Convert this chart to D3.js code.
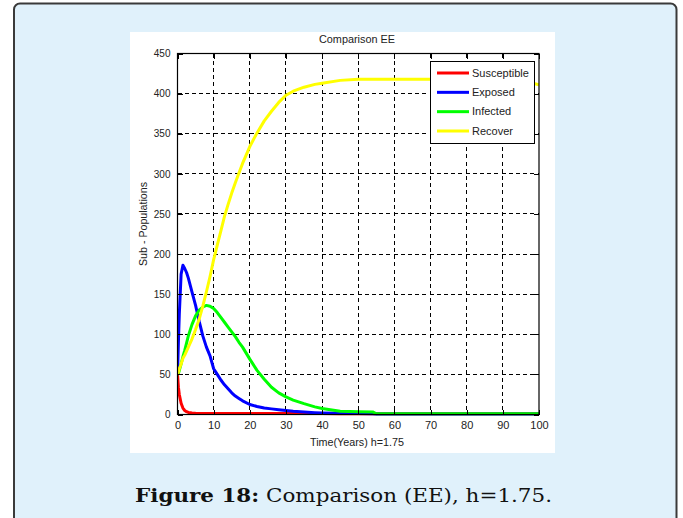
<!DOCTYPE html>
<html><head><meta charset="utf-8">
<script src="https://cdn.jsdelivr.net/npm/d3@7"></script>
<style>
html,body{margin:0;padding:0;background:#fff;}
svg{display:block;}
</style></head>
<body>
<svg id="chart" width="683" height="518"></svg>
<script>
// Time grid (years) and the four sub-populations of the EE comparison run
const timeYears = [0, 0.25, 0.5, 1, 1.5, 2, 2.5, 3, 4, 5, 6, 7, 8, 9, 10, 11, 12, 13, 14, 15, 16, 17, 18, 20, 22, 24, 26, 28, 30, 32, 35, 38, 40, 45, 50, 54, 55, 60, 70, 80, 90, 95, 100];
const susceptible = [50, 34, 25, 14, 8, 5, 3.5, 2.5, 1.8, 1.5, 1.4, 1.3, 1.3, 1.2, 1.2, 1.2, 1.2, 1.2, 1.2, 1.2, 1.2, 1.2, 1.2, 1.2, 1.2, 1.2, 1.2, 1.2, 1.2, 1.2, 1.1, 1.1, 1.1, 1, 1, 1, 1, 1, 1, 1, 1, 1, 1];
const exposed = [50, 90, 125, 175, 186, 182, 177, 170, 153, 136, 116, 98, 84, 73, 57, 50, 43, 37, 32, 27, 23, 20, 17, 12.5, 10, 8, 7, 6, 5, 4, 3, 2.3, 2, 1.5, 1.2, 1, 0.6, 0.5, 0.5, 0.5, 0.5, 0.5, 0.5];
const infected = [50, 51, 55, 63, 72, 80, 89, 98, 112, 123, 130, 134, 136, 135, 132, 127, 121, 115, 109, 103, 97, 90, 84, 69, 55, 44, 34, 27, 22, 18, 13.5, 9.5, 7.5, 4, 3.5, 3.2, 0.9, 0.8, 0.8, 0.8, 0.8, 0.8, 0.8];
const recovered = [50, 53, 57, 63, 70, 74, 79, 84, 94, 106, 119, 135, 153, 172, 193, 211, 229, 247, 262, 276, 289, 301, 313, 334, 351, 366, 378, 389, 398, 403, 408, 411.5, 413, 416.5, 418, 418, 418, 418, 418, 418, 418, 417, 411];

const xTicks = [0, 10, 20, 30, 40, 50, 60, 70, 80, 90, 100];
const yTicks = [0, 50, 100, 150, 200, 250, 300, 350, 400, 450];
const seriesNames = ["Susceptible", "Exposed", "Infected", "Recover"];
const seriesColors = ["#ff0000", "#0000ff", "#00ff00", "#ffff00"];
const seriesValues = [susceptible, exposed, infected, recovered];

const svg = d3.select("#chart");
const sans = "'Liberation Sans', Arial, sans-serif";

// Page card behind the figure
svg.append("rect")
  .attr("x", 14).attr("y", 3.5).attr("width", 662.5).attr("height", 540)
  .attr("rx", 6).attr("fill", "#e0f1fb")
  .attr("stroke", "#3a3a3a").attr("stroke-width", 2);

// White figure canvas
svg.append("rect")
  .attr("x", 130).attr("y", 32).attr("width", 425).attr("height", 421)
  .attr("fill", "#ffffff");

const plot = { left: 177.5, right: 539, top: 53.5, bottom: 414.5 };
const x = d3.scaleLinear().domain([0, 100]).range([plot.left, plot.right]);
const y = d3.scaleLinear().domain([0, 450]).range([plot.bottom, plot.top]);

// Dashed grid
const grid = svg.append("g").attr("stroke", "#000").attr("stroke-width", 1)
  .attr("stroke-dasharray", "4,3.2").attr("shape-rendering", "crispEdges");
grid.selectAll("line.v").data(xTicks.slice(1, -1)).join("line")
  .attr("class", "v")
  .attr("x1", d => x(d)).attr("x2", d => x(d))
  .attr("y1", plot.top).attr("y2", plot.bottom);
grid.selectAll("line.h").data(yTicks.slice(1, -1)).join("line")
  .attr("class", "h")
  .attr("x1", plot.left).attr("x2", plot.right)
  .attr("y1", d => y(d)).attr("y2", d => y(d));

// Series lines
const clip = svg.append("clipPath").attr("id", "plotClip");
clip.append("rect").attr("x", plot.left).attr("y", plot.top)
  .attr("width", plot.right - plot.left).attr("height", plot.bottom - plot.top + 1.5);

const line = d3.line().x(d => x(d[0])).y(d => y(d[1]));
const lines = svg.append("g").attr("clip-path", "url(#plotClip)");
seriesValues.forEach((vals, i) => {
  lines.append("path")
    .datum(timeYears.map((t, k) => [t, vals[k]]))
    .attr("fill", "none")
    .attr("stroke", seriesColors[i])
    .attr("stroke-width", 3)
    .attr("stroke-linejoin", "round")
    .attr("d", line);
});

// Axes with inward ticks on all four sides
function styleAxis(g) {
  g.select(".domain").remove();
  g.selectAll(".tick line").attr("stroke", "#000").attr("shape-rendering", "crispEdges");
  g.selectAll(".tick text").attr("fill", "#222").attr("font-family", sans);
}
svg.append("g").attr("transform", `translate(0,${plot.bottom})`)
  .call(d3.axisBottom(x).tickValues(xTicks).tickSize(-5).tickPadding(7).tickFormat(d3.format("d")))
  .call(styleAxis)
  .call(g => g.selectAll(".tick text").attr("font-size", 11));
svg.append("g").attr("transform", `translate(0,${plot.top})`)
  .call(d3.axisTop(x).tickValues(xTicks).tickSize(-5).tickFormat(""))
  .call(styleAxis);
svg.append("g").attr("transform", `translate(${plot.left},0)`)
  .call(d3.axisLeft(y).tickValues(yTicks).tickSize(-5).tickPadding(7).tickFormat(d3.format("d")))
  .call(styleAxis)
  .call(g => g.selectAll(".tick text").attr("font-size", 10));
svg.append("g").attr("transform", `translate(${plot.right},0)`)
  .call(d3.axisRight(y).tickValues(yTicks).tickSize(-5).tickFormat(""))
  .call(styleAxis);

// Axes box
svg.append("rect")
  .attr("x", plot.left).attr("y", plot.top)
  .attr("width", plot.right - plot.left).attr("height", plot.bottom - plot.top)
  .attr("fill", "none").attr("stroke", "#000").attr("stroke-width", 1.2);

// Titles
svg.append("text").attr("x", 357).attr("y", 43)
  .attr("text-anchor", "middle").attr("font-family", sans).attr("font-size", 11.5)
  .attr("fill", "#222").attr("textLength", 76).attr("lengthAdjust", "spacingAndGlyphs")
  .text("Comparison EE");
svg.append("text").attr("x", 357).attr("y", 446)
  .attr("text-anchor", "middle").attr("font-family", sans).attr("font-size", 11)
  .attr("fill", "#222").attr("textLength", 94).attr("lengthAdjust", "spacingAndGlyphs")
  .text("Time(Years) h=1.75");
svg.append("text")
  .attr("transform", "translate(147,224) rotate(-90)")
  .attr("text-anchor", "middle").attr("font-family", sans).attr("font-size", 11)
  .attr("fill", "#222").attr("textLength", 84).attr("lengthAdjust", "spacingAndGlyphs")
  .text("Sub - Populations");

// Legend
const legend = svg.append("g");
legend.append("rect").attr("x", 430.5).attr("y", 61.5).attr("width", 104).attr("height", 82)
  .attr("fill", "#fff").attr("stroke", "#000").attr("stroke-width", 1);
const legendY = d3.scalePoint().domain(seriesNames).range([73, 131]);
seriesNames.forEach((name, i) => {
  const yy = legendY(name);
  legend.append("line").attr("x1", 437).attr("x2", 469).attr("y1", yy).attr("y2", yy)
    .attr("stroke", seriesColors[i]).attr("stroke-width", 3);
  legend.append("text").attr("x", 472).attr("y", yy + 3.8)
    .attr("font-family", sans).attr("font-size", 11).attr("fill", "#222")
    .text(name);
});

// Caption
const caption = svg.append("text").attr("x", 343.5).attr("y", 502)
  .attr("text-anchor", "middle").attr("font-family", "'DejaVu Serif', serif")
  .attr("font-size", 19).attr("fill", "#111")
  .attr("textLength", 417).attr("lengthAdjust", "spacingAndGlyphs");
caption.append("tspan").attr("font-weight", "bold").text("Figure 18:");
caption.append("tspan").text(" Comparison (EE), h=1.75.");
</script>
</body></html>
